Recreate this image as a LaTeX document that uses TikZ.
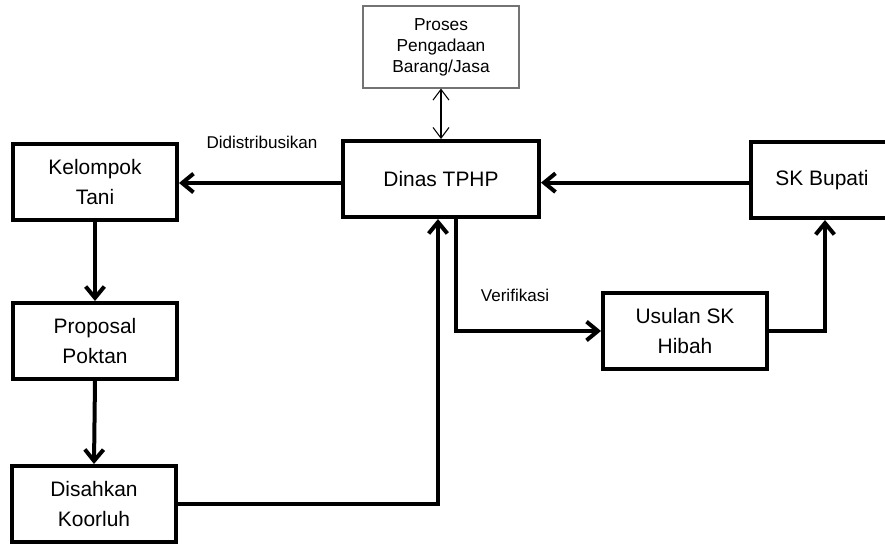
\documentclass[tikz,border=0pt]{standalone}
\usepackage{fontspec}
\setmainfont{Liberation Sans}
\usetikzlibrary{arrows.meta}

\begin{document}
\begin{tikzpicture}[x=0.75pt, y=-0.75pt,
	box/.style={draw=black, line width=3pt, align=center, inner sep=0pt,
		minimum width=123pt, minimum height=57pt,
		font=\fontsize{15.7}{22.5}\selectfont},
	thinbox/.style={draw=black!55, line width=0.8pt, align=center, inner sep=0pt,
		font=\fontsize{13}{15.75}\selectfont},
	flow/.style={line width=3pt, -{Straight Barb[length=8.5pt, width=14pt]}},
	label/.style={font=\fontsize{12.8}{15}\selectfont}]
	\useasboundingbox (0,0) rectangle (885,543);

	% boxes
	\node [thinbox, minimum width=117pt, minimum height=61.5pt] (proses) at (441,47) {Proses\\Pengadaan\\Barang/Jasa};
	\node [box, minimum width=147pt] (dinas) at (441,179) {Dinas TPHP};
	\node [box] (kelompok) at (95,182) {Kelompok\\Tani};
	\node [box, minimum width=106pt] (bupati) at (822,180) {SK Bupati};
	\node [box] (proposal) at (95,341) {Proposal\\Poktan};
	\node [box] (disahkan) at (94,504) {Disahkan\\Koorluh};
	\node [box] (usulan) at (685,331) {Usulan SK\\Hibah};

	% labels
	\node [label] (distribusi) at (262,142) {Didistribusikan};
	\node [label] (verifikasi) at (515,295) {Verifikasi};

	% arrows
	\draw[line width=0.8pt, {Straight Barb[length=8pt, width=12pt]}-{Straight Barb[length=8pt, width=12pt]}]
	(proses.south) -- (dinas.north);
	\draw[flow] ([yshift=-3pt]dinas.west) -- ([yshift=-3pt]dinas.west -| kelompok.east);
	\draw[flow] ([yshift=-2pt]bupati.west) -- ([yshift=-2pt]bupati.west -| dinas.east);
	\draw[flow] (kelompok.south) -- (proposal.north);
	\draw[flow] (proposal.south) -- (disahkan.north);
	\draw[flow] (disahkan.east) -| ([xshift=-2.25pt]dinas.south);
	\draw[flow] ([xshift=11.25pt]dinas.south) |- (usulan.west);
	\draw[flow] (usulan.east) -| ([xshift=2.25pt]bupati.south);
\end{tikzpicture}
\end{document}
